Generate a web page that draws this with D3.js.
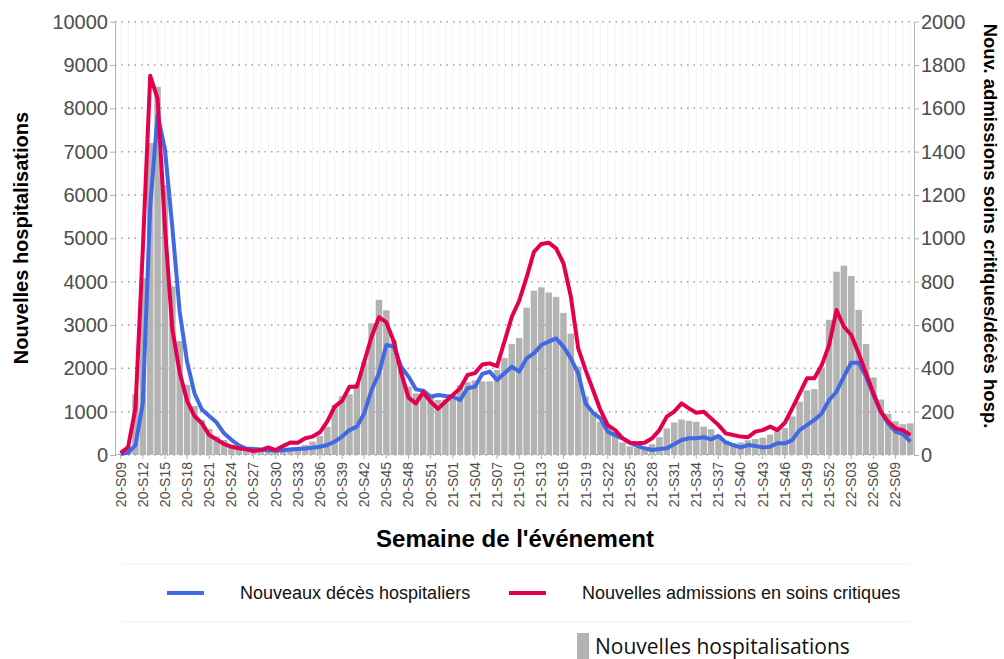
<!DOCTYPE html>
<html>
<head>
<meta charset="utf-8">
<script src="https://cdn.jsdelivr.net/npm/d3@7"></script>
<style>
  body{margin:0;background:#fff;}
  svg{display:block;font-family:"Liberation Sans",Arial,sans-serif;}
</style>
</head>
<body>
<div id="chart"></div>
<script>
// semaines 20-S09 .. 22-S11 (2020 a 53 semaines)
var weeks = (function(){
  var w = [];
  function pad(n){ return n < 10 ? "0"+n : ""+n; }
  for(var s=9; s<=53; s++) w.push("20-S"+pad(s));
  for(var s=1; s<=52; s++) w.push("21-S"+pad(s));
  for(var s=1; s<=11; s++) w.push("22-S"+pad(s));
  return w;
})();

var hospitalisations = [30,200,1400,4080,7200,8500,6230,3890,2630,1620,
  1130,810,600,430,345,240,190,160,150,140,
  140,150,160,170,190,230,310,440,650,1150,
  1360,1400,1650,2150,3040,3580,3340,2650,1960,1580,
  1420,1370,1340,1270,1280,1350,1610,1680,1720,1700,
  1700,1960,2240,2560,2700,3400,3790,3870,3750,3650,
  3280,2800,2040,1350,960,770,650,500,290,200,
  170,170,250,410,615,750,820,790,765,655,
  595,460,330,270,290,340,370,400,470,560,
  620,890,1230,1490,1520,2000,3120,4230,4370,4130,
  3350,2560,1790,1280,950,780,710,730];

var soinsCritiques = [10,35,215,950,1750,1645,1050,580,380,250,
  180,146,92,72,51,38,31,26,18,23,
  35,23,41,58,57,77,85,105,155,223,
  250,315,315,430,546,636,612,525,380,265,
  238,290,246,213,246,277,308,369,378,418,
  423,410,523,638,712,820,938,974,980,954,
  885,731,492,392,300,208,138,115,77,57,
  54,57,77,115,177,200,238,215,195,200,
  169,138,100,92,85,82,108,115,131,115,
  149,215,285,354,354,415,508,669,592,554,
  469,377,285,200,154,123,115,92];

var decesHosp = [5,10,45,240,1150,1570,1410,1050,660,430,
  285,210,180,150,100,70,45,30,28,25,
  22,20,22,25,28,30,33,38,46,62,
  85,115,131,192,300,377,508,500,408,362,
  303,297,269,277,272,269,254,308,315,374,
  385,346,377,408,385,446,469,508,523,538,
  500,446,377,238,195,169,108,92,77,57,
  42,31,23,28,31,50,69,77,77,82,
  72,88,58,46,35,46,42,35,38,54,
  54,69,115,138,162,192,254,292,362,426,
  426,362,277,200,146,108,97,62];

var leftTicks = [0,1000,2000,3000,4000,5000,6000,7000,8000,9000,10000];
var rightTicks = [0,200,400,600,800,1000,1200,1400,1600,1800,2000];
var weekTicks = weeks.filter(function(d,i){ return i % 3 == 0; });

var W = 1004, H = 659;
var plotL = 115, plotR = 914, plotT = 21.7, plotB = 455;
var gray = "#4d4d4d";

var svg = d3.select("#chart").append("svg")
    .attr("width", W)
    .attr("height", H);

var x = d3.scaleBand()
    .domain(weeks)
    .range([plotL+2, plotR])
    .paddingInner(0.12)
    .paddingOuter(0.06);
var yL = d3.scaleLinear().domain([0,10000]).range([plotB, plotT]);
var yR = d3.scaleLinear().domain([0,2000]).range([plotB, plotT]);
var cx = function(w){ return x(w) + x.bandwidth()/2; };

// lignes verticales tres pales
svg.append("g").selectAll("line")
    .data(weeks)
    .enter().append("line")
    .attr("x1", cx).attr("x2", cx)
    .attr("y1", plotT).attr("y2", plotB)
    .attr("stroke", "#f5f5f5");

// grille pointillee
svg.append("g").selectAll("line")
    .data(leftTicks)
    .enter().append("line")
    .attr("x1", plotL).attr("x2", plotR)
    .attr("y1", function(d){ return yL(d); })
    .attr("y2", function(d){ return yL(d); })
    .attr("stroke", "#a0a0a0")
    .attr("stroke-width", 1.5)
    .attr("stroke-dasharray", "1.5,5");

// barres
svg.append("g").selectAll("rect")
    .data(hospitalisations)
    .enter().append("rect")
    .attr("x", function(d,i){ return x(weeks[i]); })
    .attr("width", x.bandwidth())
    .attr("y", function(d){ return yL(d); })
    .attr("height", function(d){ return plotB - yL(d); })
    .attr("fill", "#b3b3b3");

// courbes
var line = d3.line()
    .x(function(d,i){ return cx(weeks[i]); })
    .y(function(d){ return yR(d); });
svg.append("path")
    .datum(decesHosp)
    .attr("d", line)
    .attr("fill", "none")
    .attr("stroke", "#4169e1")
    .attr("stroke-width", 4)
    .attr("stroke-linejoin", "round");
svg.append("path")
    .datum(soinsCritiques)
    .attr("d", line)
    .attr("fill", "none")
    .attr("stroke", "#e3004f")
    .attr("stroke-width", 4)
    .attr("stroke-linejoin", "round");

// axes
function styleAxis(g, size){
  g.select(".domain").attr("stroke", "#b3b3b3");
  g.selectAll(".tick line").attr("stroke", "#b3b3b3");
  g.selectAll(".tick text").attr("fill", gray).style("font-size", size);
}
var axL = svg.append("g")
    .attr("transform", "translate("+plotL+",0)")
    .call(d3.axisLeft(yL).tickValues(leftTicks).tickFormat(d3.format("d"))
      .tickSize(5).tickSizeOuter(0).tickPadding(2));
styleAxis(axL, "20px");
var axR = svg.append("g")
    .attr("transform", "translate("+plotR+",0)")
    .call(d3.axisRight(yR).tickValues(rightTicks).tickFormat(d3.format("d"))
      .tickSize(5).tickSizeOuter(0).tickPadding(2));
styleAxis(axR, "20px");
var axB = svg.append("g")
    .attr("transform", "translate(0,"+plotB+")")
    .call(d3.axisBottom(x).tickValues(weekTicks).tickSize(4).tickSizeOuter(0));
axB.select(".domain").remove();
styleAxis(axB, "14px");
axB.selectAll(".tick text")
    .attr("transform", "rotate(-90)")
    .attr("x", -7)
    .attr("y", 0)
    .attr("dy", "0.35em")
    .style("text-anchor", "end");

// titres
svg.append("text")
    .attr("transform", "translate(28,238) rotate(-90)")
    .attr("text-anchor", "middle")
    .style("font-size", "20px").style("font-weight", "bold")
    .text("Nouvelles hospitalisations");
svg.append("text")
    .attr("transform", "translate(984,226) rotate(90)")
    .attr("text-anchor", "middle")
    .style("font-size", "18.5px").style("font-weight", "bold")
    .text("Nouv. admissions soins critiques/décès hosp.");
svg.append("text")
    .attr("x", 515).attr("y", 547)
    .attr("text-anchor", "middle")
    .style("font-size", "24px").style("font-weight", "bold")
    .text("Semaine de l'événement");

// legende
svg.append("line").attr("x1", 122).attr("x2", 910).attr("y1", 564).attr("y2", 564)
    .attr("stroke", "#f0f0f0");
svg.append("line").attr("x1", 122).attr("x2", 910).attr("y1", 622).attr("y2", 622)
    .attr("stroke", "#f0f0f0");
var legendItems = [
  {label:"Nouveaux décès hospitaliers", color:"#4169e1", x:167},
  {label:"Nouvelles admissions en soins critiques", color:"#e3004f", x:509}
];
legendItems.forEach(function(it){
  svg.append("line")
    .attr("x1", it.x).attr("x2", it.x+37)
    .attr("y1", 593).attr("y2", 593)
    .attr("stroke", it.color).attr("stroke-width", 4);
  svg.append("text")
    .attr("x", it.x+73).attr("y", 599)
    .style("font-size", "18px")
    .attr("fill", "#111")
    .text(it.label);
});
svg.append("rect")
    .attr("x", 577).attr("y", 633).attr("width", 12).attr("height", 26)
    .attr("fill", "#b3b3b3");
svg.append("text")
    .attr("x", 595).attr("y", 654)
    .style("font-family", "'Open Sans', sans-serif")
    .style("font-size", "21px")
    .attr("fill", "#111")
    .text("Nouvelles hospitalisations");
</script>
</body>
</html>
